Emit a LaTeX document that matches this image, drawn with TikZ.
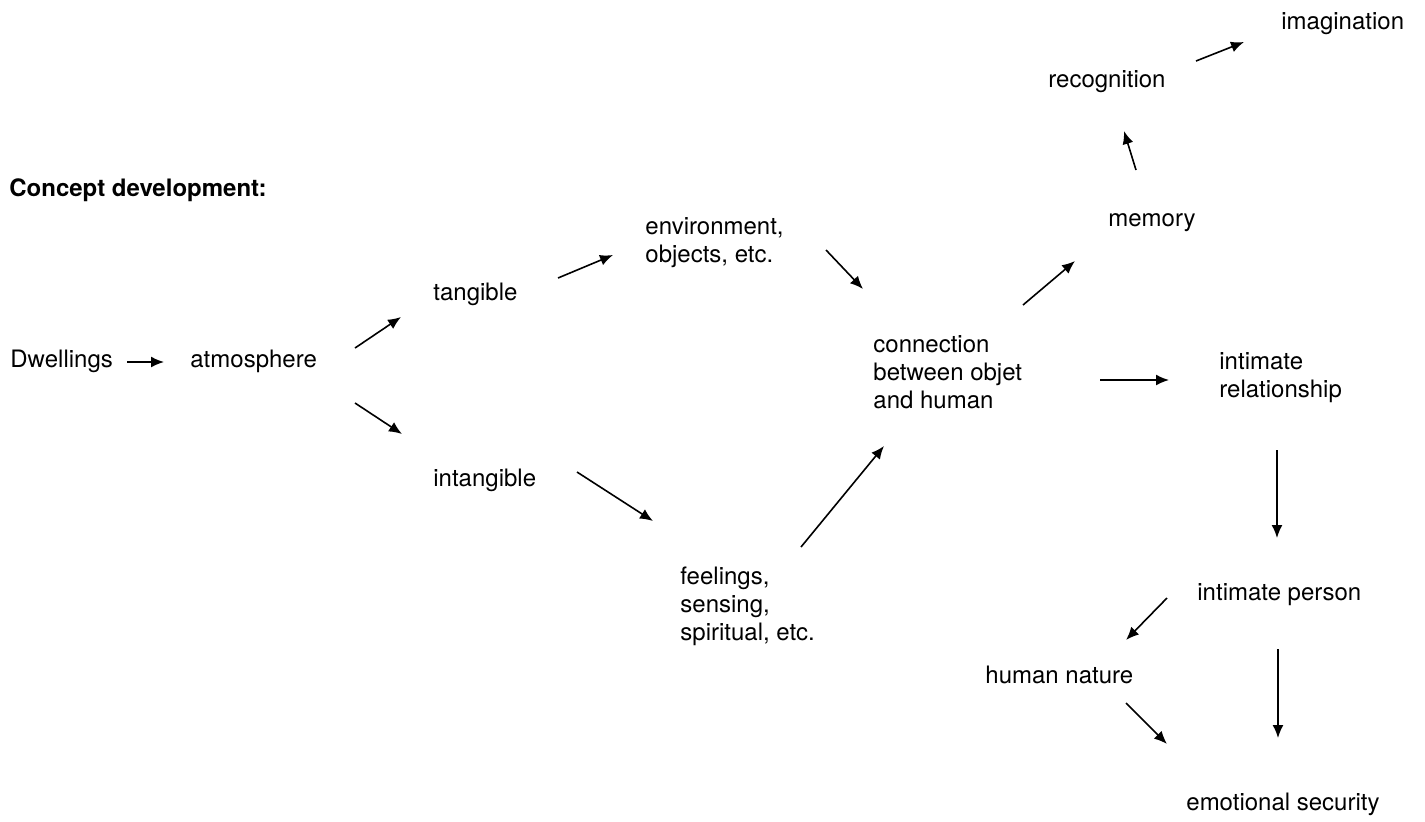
\documentclass[tikz,border=0pt]{standalone}
\usepackage{fontspec}
\setmainfont{TeX Gyre Heros}
\usetikzlibrary{arrows.meta}
\begin{document}
\begin{tikzpicture}[x=0.5pt,y=-0.5pt]
\tikzset{mot/.style={anchor=base west, inner sep=0pt, font=\fontsize{12}{14}\selectfont},
  bloc/.style={anchor=north west, inner sep=0pt, align=left, font=\fontsize{12}{14}\selectfont},
  fleche/.style={-{Latex[length=6.5pt,width=5.5pt]}, line width=0.8pt}}
\useasboundingbox (0,0) rectangle (1425,821);
\node[mot, font=\fontsize{12}{14}\selectfont\bfseries] (titre) at (9,196) {Concept development:};
\node[mot] (dwell) at (10,367) {Dwellings};
\node[mot] (atmo) at (190,367) {atmosphere};
\node[mot] (tang) at (433,300) {tangible};
\node[mot] (intang) at (433,486) {intangible};
\node[bloc] (env) at (645,217) {environment,\\objects, etc.};
\node[bloc] (conn) at (873,335) {connection\\between objet\\and human};
\node[bloc] (feel) at (680,567) {feelings,\\sensing,\\spiritual, etc.};
\node[mot] (memo) at (1108,226) {memory};
\node[mot] (recog) at (1048,87) {recognition};
\node[mot] (imag) at (1281,29) {imagination};
\node[bloc] (rel) at (1219,352) {intimate\\relationship};
\node[mot] (pers) at (1197,600) {intimate person};
\node[mot] (human) at (985,683) {human nature};
\node[mot] (emo) at (1186,810) {emotional security};
\draw[fleche] ([shift={(117,-5)}]dwell.base west) -- ([shift={(-26,-5)}]atmo.base west);
\draw[fleche] ([shift={(165,-19)}]atmo.base west) -- ([shift={(-32,17)}]tang.base west);
\draw[fleche] ([shift={(165,36)}]atmo.base west) -- ([shift={(-31,-52)}]intang.base west);
\draw[fleche] ([shift={(125,-22)}]tang.base west) -- ([shift={(-32,38)}]env.north west);
\draw[fleche] ([shift={(181,33)}]env.north west) -- ([shift={(-10,-46)}]conn.north west);
\draw[fleche] ([shift={(144,-14)}]intang.base west) -- ([shift={(-27,-46)}]feel.north west);
\draw[fleche] ([shift={(121,-20)}]feel.north west) -- ([shift={(11,111)}]conn.north west);
\draw[fleche] ([shift={(150,-30)}]conn.north west) -- ([shift={(-33,35)}]memo.base west);
\draw[fleche] ([shift={(227,45)}]conn.north west) -- ([shift={(-50,28)}]rel.north west);
\draw[fleche] ([shift={(28,-56)}]memo.base west) -- ([shift={(76,44)}]recog.base west);
\draw[fleche] ([shift={(148,-26)}]recog.base west) -- ([shift={(-37,13)}]imag.base west);
\draw[fleche] ([shift={(58,98)}]rel.north west) -- ([shift={(80,-62)}]pers.base west);
\draw[fleche] ([shift={(-30,-2)}]pers.base west) -- ([shift={(141,-43)}]human.base west);
\draw[fleche] ([shift={(141,20)}]human.base west) -- ([shift={(-19,-66)}]emo.base west);
\draw[fleche] ([shift={(81,49)}]pers.base west) -- ([shift={(92,-72)}]emo.base west);
\end{tikzpicture}
\end{document}
